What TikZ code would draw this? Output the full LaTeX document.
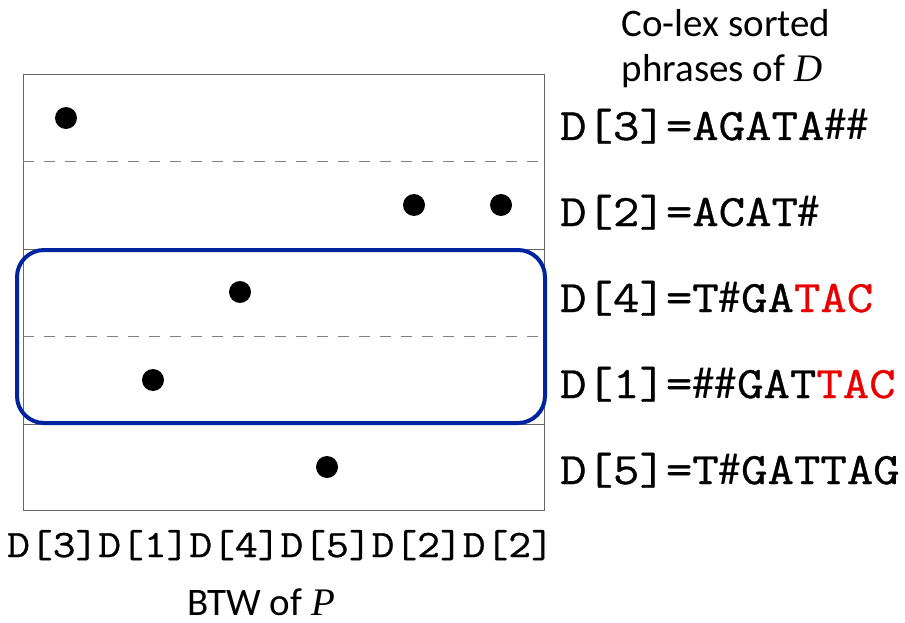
\documentclass[tikz,border=0pt]{standalone}
\usepackage{fontspec}
\setmainfont{Carlito}
\newfontfamily\cour{Latin Modern Mono}[FakeStretch=1.14, FakeBold=0.8]
\newfontfamily\capserif{Liberation Serif}
\newcommand{\hs}{{\rmfamily\#}}
\definecolor{boxblue}{RGB}{0,35,160}
\definecolor{tacred}{RGB}{235,0,0}
\tikzset{
  phrase/.style={anchor=base west, inner sep=0pt, font=\cour\fontsize{45}{50}\selectfont},
  btwlab/.style={anchor=base west, inner sep=0pt, font=\cour\fontsize{38.8}{42}\selectfont},
  caption/.style={anchor=base, inner sep=0pt, font=\fontsize{39}{44}\selectfont},
  dot/.style={circle, fill=black, minimum size=22pt, inner sep=0pt},
  framebox/.style={draw=black!60, line width=1pt},
  sepline/.style={draw=black!50, line width=1pt, dash pattern=on 11pt off 10pt},
  selbox/.style={draw=boxblue, line width=4pt, rounded corners=27pt}
}
\begin{document}
\begin{tikzpicture}[x=1pt,y=-1pt]
\useasboundingbox (0,0) rectangle (905,623);
% frame
\draw[framebox] (23,75) rectangle (544,510);
\draw[sepline] (23,161.5) -- (544,161.5);
\draw[framebox] (23,249) -- (544,249);
\draw[sepline] (23,336.5) -- (544,336.5);
\draw[framebox] (23,424) -- (544,424);
% dots
\node[dot] (p1) at (66,118) {};
\node[dot] (p2) at (414,205) {};
\node[dot] (p3) at (501,205) {};
\node[dot] (p4) at (240,292) {};
\node[dot] (p5) at (153,380) {};
\node[dot] (p6) at (327,467) {};
% selection box
\draw[selbox] (17,250) rectangle (545,423);
% captions
\node[caption] (c1) at (726,37) {Co-lex sorted};
\node[caption] (c2) at (722,82) {phrases of {\capserif\itshape D}};
\node[caption] (c3) at (261,615) {BTW of {\capserif\itshape P}};
% phrases
\node[phrase] (d3) at (560,140) {D[3]=AGATA\hs\hs};
\node[phrase] (d2) at (560,226) {D[2]=ACAT\hs};
\node[phrase] (d4) at (560,312) {D[4]=T\hs GA\textcolor{tacred}{TAC}};
\node[phrase] (d1) at (560,398) {D[1]=\hs\hs GAT\textcolor{tacred}{TAC}};
\node[phrase] (d5) at (560,484) {D[5]=T\hs GATTAG};
% BWT labels
\node[btwlab] (b) at (7,557) {D[3]D[1]D[4]D[5]D[2]D[2]};
\end{tikzpicture}
\end{document}
